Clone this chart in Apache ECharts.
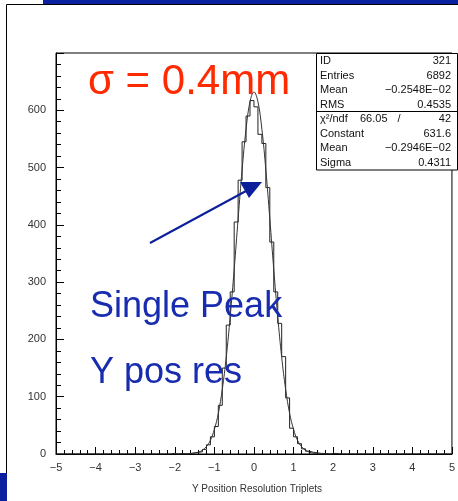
<!DOCTYPE html>
<html>
<head>
<meta charset="utf-8">
<script src="https://cdn.jsdelivr.net/npm/echarts@6/dist/echarts.min.js"></script>
<style>
html,body{margin:0;padding:0;background:#fff;}
#chart{width:458px;height:501px;}
</style>
</head>
<body>
<div id="chart"></div>
<script>
// ---- data ----
var binLow = -5;
var binWidth = 0.1;
// 100 bins from -5 to 5 (rows of 10 bins = 1 unit each)
var counts = [
  0,0,0,0,0,0,0,0,0,0,            // -5 .. -4
  0,0,0,0,0,0,0,0,0,0,            // -4 .. -3
  0,0,0,0,0,0,0,0,0,1,            // -3 .. -2
  0,1,0,1,2,3,4,8,16,30,          // -2 .. -1
  48,85,150,225,283,405,478,545,590,617, // -1 .. 0
  606,558,542,465,370,283,228,170,98,45, //  0 .. 1
  30,18,9,5,3,2,1,1,0,1,          //  1 .. 2
  1,0,0,0,0,0,0,0,0,0,            //  2 .. 3
  0,0,0,0,0,0,0,0,0,0,            //  3 .. 4
  0,0,0,0,0,0,0,0,0,0             //  4 .. 5
];
// fitted gaussian curve
var fitX = [-2.0,-1.9,-1.8,-1.7,-1.6,-1.5,-1.4,-1.3,-1.2,-1.1,-1.0,-0.9,-0.8,-0.7,-0.6,-0.5,-0.4,-0.3,-0.2,-0.1,
            0.0,0.1,0.2,0.3,0.4,0.5,0.6,0.7,0.8,0.9,1.0,1.1,1.2,1.3,1.4,1.5,1.6,1.7,1.8,1.9,2.0];
var fitY = [0,0.1,0.1,0.3,0.6,1.5,3.2,6.7,13,24,43,71,113,169,240,322,411,496,567,615,
            632,615,567,496,411,322,240,169,113,71,43,24,13,6.7,3.2,1.5,0.6,0.3,0.1,0.1,0];
var xTicks = [-5,-4,-3,-2,-1,0,1,2,3,4,5];
var yTicks = [0,100,200,300,400,500,600];
var xTitle = 'Y Position Resolution Triplets';
var statsTop = [['ID','321'],['Entries','6892'],['Mean','\u22120.2548E\u221202'],['RMS','0.4535']];
var statsChi = ['\u03C7\u00B2/ndf','66.05','/','42'];
var statsFit = [['Constant','631.6'],['Mean','\u22120.2946E\u221202'],['Sigma','0.4311']];
var noteSigma = '\u03C3 = 0.4mm';
var noteLine1 = 'Single Peak';
var noteLine2 = 'Y pos res';

// ---- build ----
var histData = counts.map(function(v,i){ return [binLow + i*binWidth, v]; });
histData.push([binLow + counts.length*binWidth, counts[counts.length-1]]);
var fitData = fitX.map(function(x,i){ return [x, fitY[i]]; });

function minus(v){ return String(v).replace('-', '\u2212'); }

var statFont = '11px "Liberation Sans", Arial, sans-serif';
var graphics = [];
// decorations: blue bars and outer frame
graphics.push({type:'rect', shape:{x:43,y:0,width:415,height:4}, style:{fill:'#0a209f'}, silent:true});
graphics.push({type:'rect', shape:{x:0,y:473,width:7,height:28}, style:{fill:'#0a209f'}, silent:true});
graphics.push({type:'polyline', shape:{points:[[6.5,473],[6.5,4.5],[458,4.5]]}, style:{stroke:'#000',lineWidth:1,fill:null}, silent:true});
// stats box
var bx = 316.5, by = 53.5, bw = 141, bh = 116.5, sep = 111.5;
graphics.push({type:'rect', shape:{x:bx,y:by,width:bw,height:bh}, style:{fill:'#fff',stroke:'#000',lineWidth:1}, z:10});
graphics.push({type:'line', shape:{x1:bx,y1:sep,x2:bx+bw,y2:sep}, style:{stroke:'#000',lineWidth:1}, z:11});
var rowY1 = [61,75.5,90,104.5];
statsTop.forEach(function(r,i){
  graphics.push({type:'text', z:11, style:{text:r[0], x:320, y:rowY1[i], font:statFont, fill:'#111', verticalAlign:'middle', align:'left'}});
  graphics.push({type:'text', z:11, style:{text:r[1], x:451, y:rowY1[i], font:statFont, fill:'#111', verticalAlign:'middle', align:'right'}});
});
var rowY2 = [119,133.5,148,162.5];
graphics.push({type:'text', z:11, style:{text:statsChi[0], x:320, y:rowY2[0], font:statFont, fill:'#111', verticalAlign:'middle', align:'left'}});
graphics.push({type:'text', z:11, style:{text:statsChi[1], x:360, y:rowY2[0], font:statFont, fill:'#111', verticalAlign:'middle', align:'left'}});
graphics.push({type:'text', z:11, style:{text:statsChi[2], x:399, y:rowY2[0], font:statFont, fill:'#111', verticalAlign:'middle', align:'center'}});
graphics.push({type:'text', z:11, style:{text:statsChi[3], x:451, y:rowY2[0], font:statFont, fill:'#111', verticalAlign:'middle', align:'right'}});
statsFit.forEach(function(r,i){
  graphics.push({type:'text', z:11, style:{text:r[0], x:320, y:rowY2[i+1], font:statFont, fill:'#111', verticalAlign:'middle', align:'left'}});
  graphics.push({type:'text', z:11, style:{text:r[1], x:451, y:rowY2[i+1], font:statFont, fill:'#111', verticalAlign:'middle', align:'right'}});
});
// annotations
graphics.push({type:'text', z:12, style:{text:noteSigma, x:88, y:82, font:'42px "Liberation Sans", Arial, sans-serif', fill:'#ff2a00', verticalAlign:'middle', align:'left'}});
graphics.push({type:'text', z:12, style:{text:noteLine1, x:90, y:307, font:'36px "Liberation Sans", Arial, sans-serif', fill:'#172cae', verticalAlign:'middle', align:'left'}});
graphics.push({type:'text', z:12, style:{text:noteLine2, x:90, y:373, font:'36px "Liberation Sans", Arial, sans-serif', fill:'#172cae', verticalAlign:'middle', align:'left'}});
graphics.push({type:'line', z:12, shape:{x1:150,y1:243,x2:246,y2:191}, style:{stroke:'#0b1f9b',lineWidth:2}});
graphics.push({type:'polygon', z:12, shape:{points:[[240,182],[262,182],[249,198]]}, style:{fill:'#0b1f9b'}});
// x title
graphics.push({type:'text', style:{text:xTitle, x:257, y:489, font:'10px "Liberation Sans", Arial, sans-serif', fill:'#333', verticalAlign:'middle', align:'center'}});

var chart = echarts.init(document.getElementById('chart'), null, {renderer:'canvas'});
chart.setOption({
  animation:false,
  backgroundColor:'#fff',
  grid:{left:56, right:1, top:53, bottom:47, show:true, borderColor:'#000', borderWidth:1, backgroundColor:'transparent'},
  xAxis:{
    type:'value', min:xTicks[0], max:xTicks[xTicks.length-1], interval:1,
    axisLine:{show:true, onZero:false, lineStyle:{color:'#000', width:1}},
    axisTick:{show:true, inside:true, length:7, lineStyle:{color:'#000'}},
    minorTick:{show:true, splitNumber:5, length:4, lineStyle:{color:'#000'}},
    splitLine:{show:false},
    axisLabel:{margin:8, color:'#333', fontSize:11, fontFamily:'Liberation Sans, Arial, sans-serif',
      formatter:function(v){ return xTicks.indexOf(v)>=0 ? minus(v) : ''; }}
  },
  yAxis:{
    type:'value', min:0, max:700, interval:100,
    axisLine:{show:true, onZero:false, lineStyle:{color:'#000', width:1}},
    axisTick:{show:true, inside:true, length:8, lineStyle:{color:'#000'}},
    minorTick:{show:true, splitNumber:5, length:5, lineStyle:{color:'#000'}},
    splitLine:{show:false},
    axisLabel:{margin:10, color:'#333', fontSize:11, fontFamily:'Liberation Sans, Arial, sans-serif',
      formatter:function(v){ return yTicks.indexOf(v)>=0 ? String(v) : ''; }}
  },
  series:[
    {type:'line', data:histData, step:'end', symbol:'none', lineStyle:{color:'#222', width:1}, z:3},
    {type:'line', data:fitData, smooth:0.4, symbol:'none', lineStyle:{color:'#333', width:1}, z:4}
  ],
  graphic:graphics
});
</script>
</body>
</html>
